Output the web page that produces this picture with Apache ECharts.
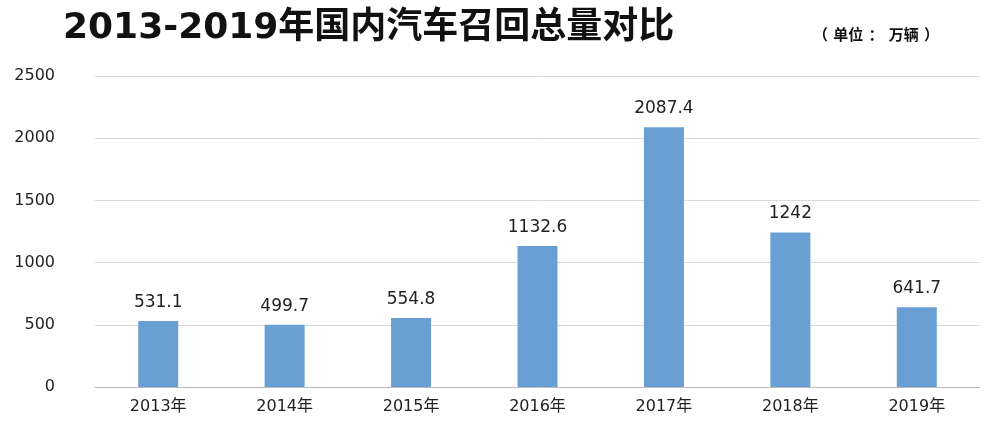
<!DOCTYPE html>
<html><head><meta charset="utf-8">
<script src="https://cdn.jsdelivr.net/npm/echarts@6/dist/echarts.min.js"></script>
<style>html,body{margin:0;padding:0;background:#fff}#c{width:1000px;height:431px}</style>
</head><body><div id="c"></div>
<script>
const categories = ['2013年','2014年','2015年','2016年','2017年','2018年','2019年'];
const values = [531.1, 499.7, 554.8, 1132.6, 2087.4, 1242, 641.7];
const yTicks = [0, 500, 1000, 1500, 2000, 2500];
const F = 'DejaVu Sans, Noto Sans CJK SC';
const chart = echarts.init(document.getElementById('c'));
chart.setOption({
  animation: false,
  title: [
    {text: '2013-2019年国内汽车召回总量对比', left: 58, top: 6,
     textStyle: {fontSize: 36, fontWeight: 'bold', color: '#111', fontFamily: F}},
    {text: '（ 单位 ： 万辆 ）', left: 808, top: 24,
     textStyle: {fontSize: 15, fontWeight: 'bold', color: '#111', fontFamily: F}}
  ],
  grid: {left: 95, right: 20, top: 76, bottom: 44},
  xAxis: {type: 'category', data: categories,
    axisLine: {lineStyle: {color: '#bbb'}}, axisTick: {show: false},
    axisLabel: {fontSize: 16, color: '#222', margin: 12, fontFamily: F}},
  yAxis: {type: 'value', min: yTicks[0], max: yTicks[yTicks.length-1], interval: 500,
    axisLine: {show: false}, axisTick: {show: false},
    axisLabel: {fontSize: 16, color: '#222', margin: 40, fontFamily: F, formatter: v => String(v)},
    splitLine: {lineStyle: {color: '#d9d9d9'}}},
  series: [{type: 'bar', data: values, barWidth: 40,
    itemStyle: {color: '#6a9fd4'},
    label: {show: true, position: 'top', distance: 10, fontSize: 17, color: '#222', fontFamily: F}}]
});
</script></body></html>
